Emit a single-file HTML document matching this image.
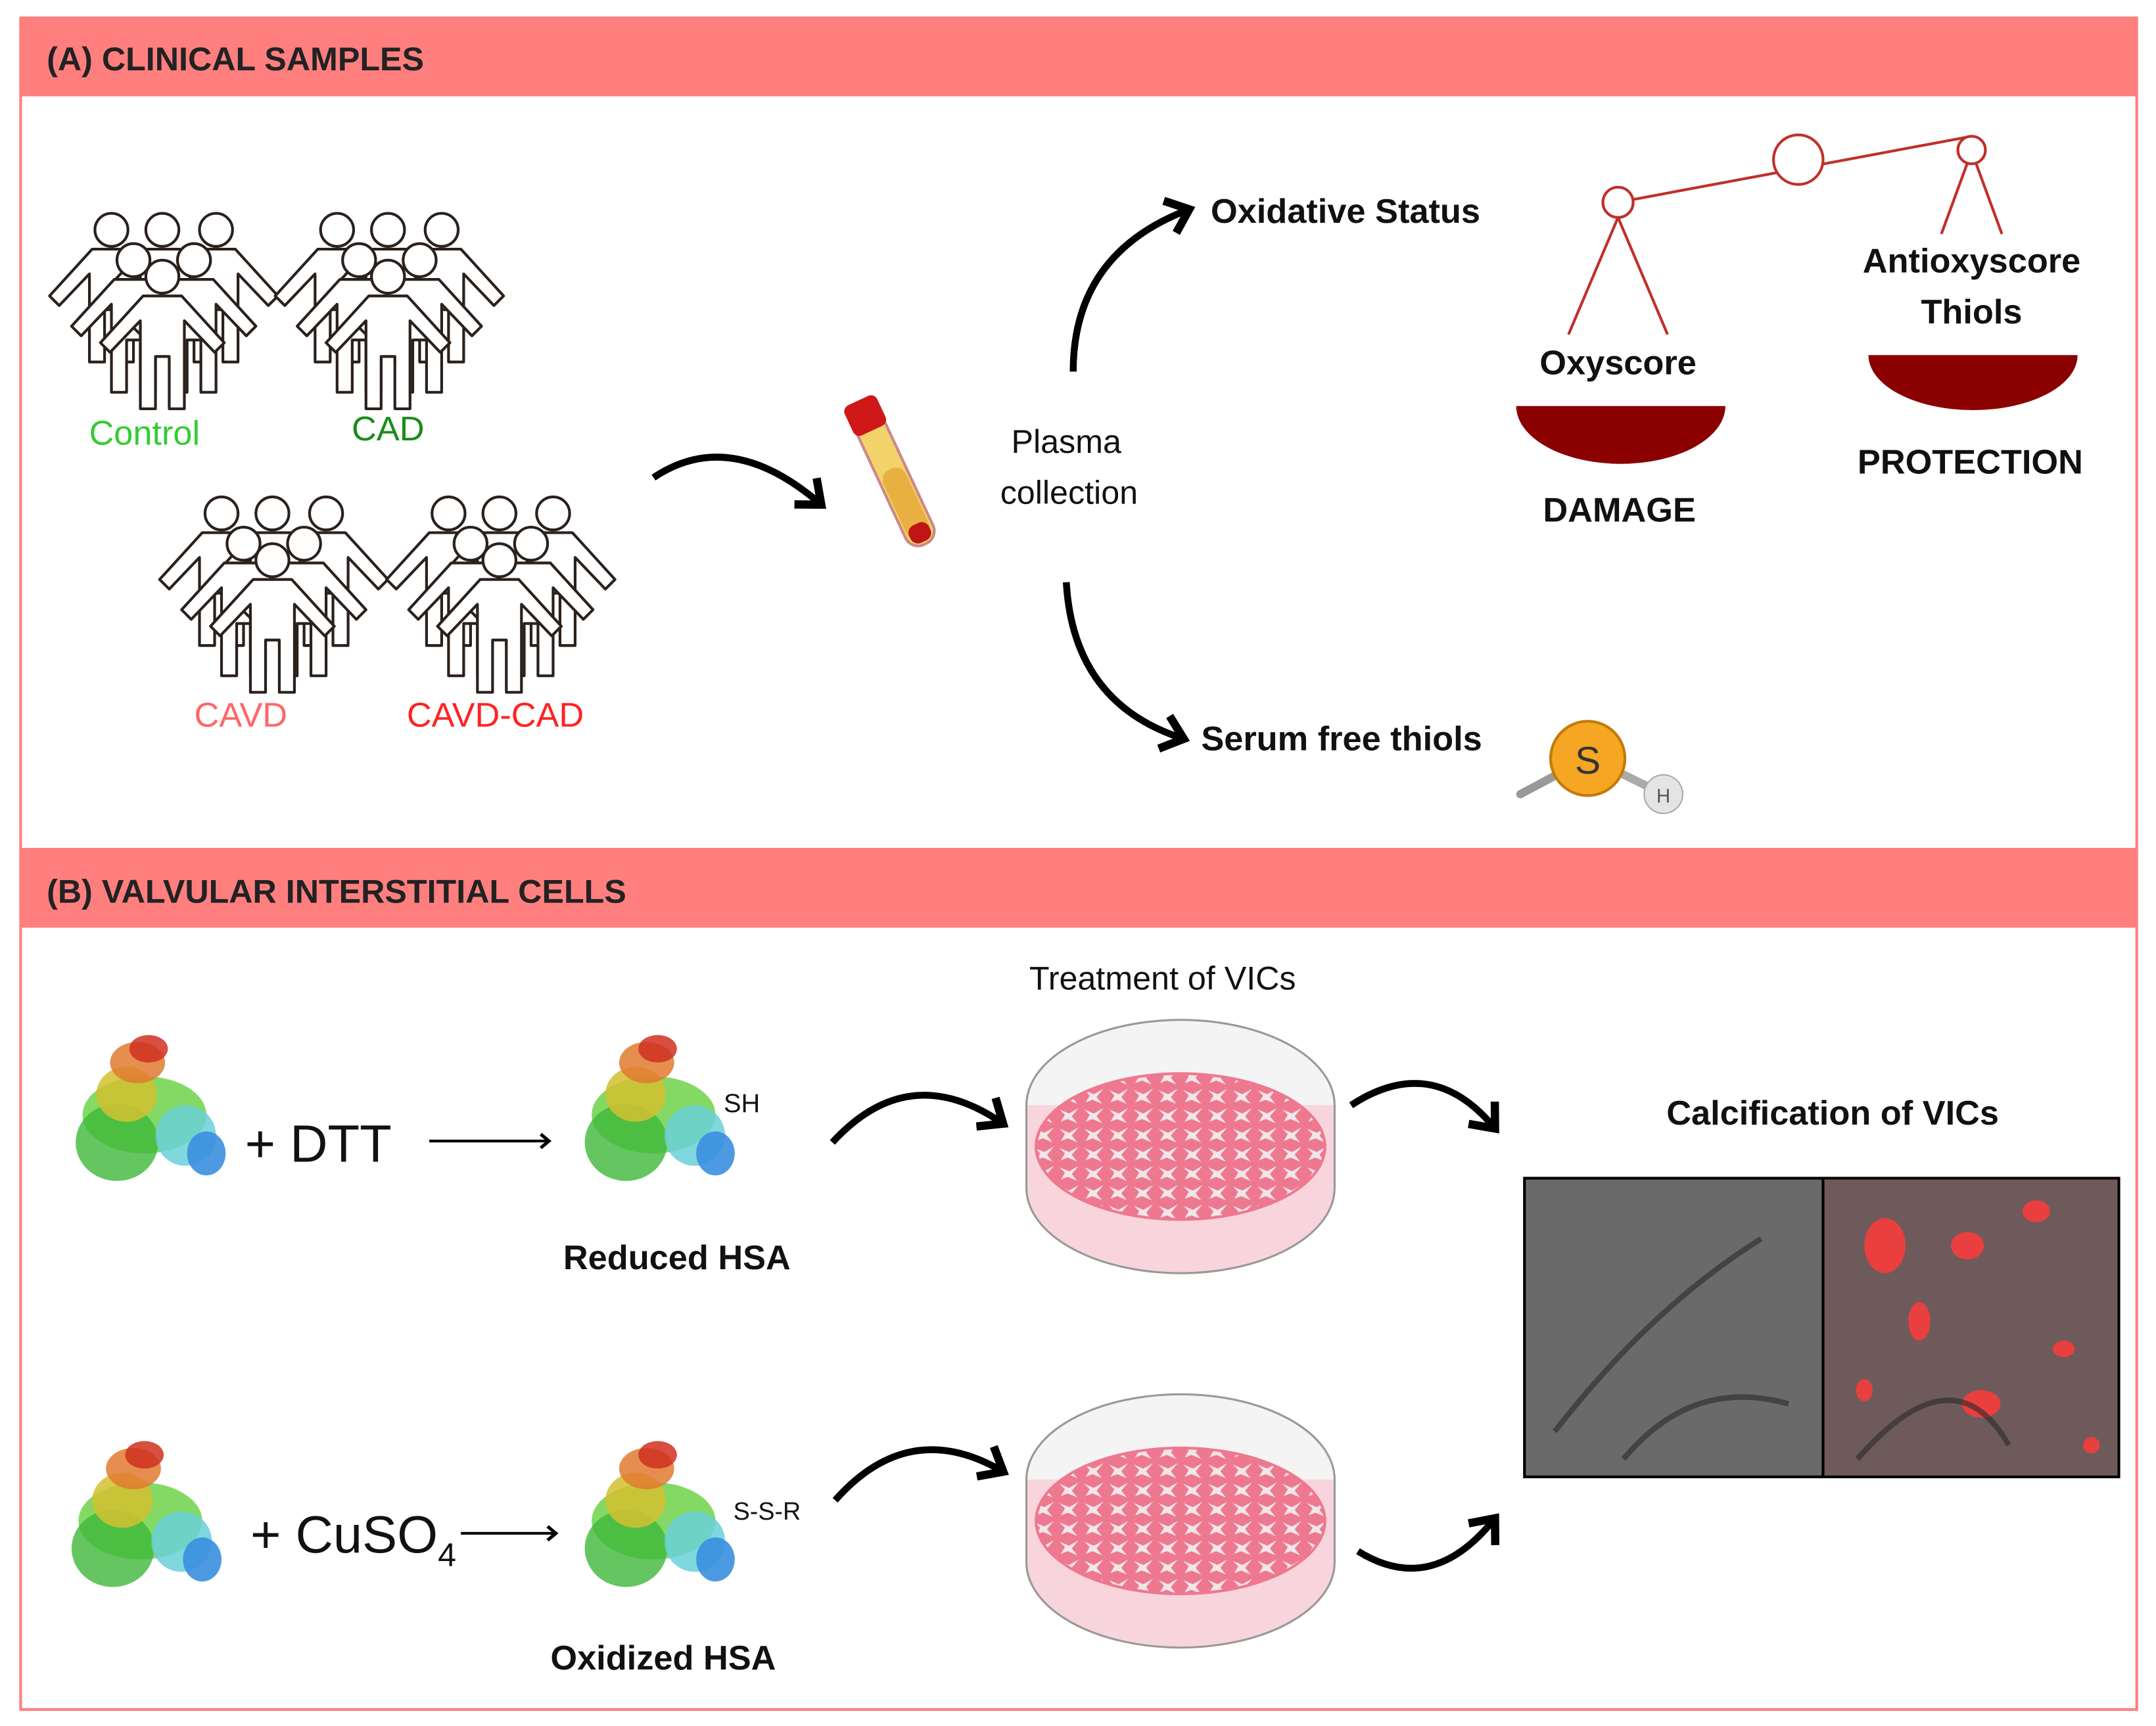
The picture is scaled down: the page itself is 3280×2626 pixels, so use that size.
<!DOCTYPE html>
<html><head><meta charset="utf-8"><style>
html,body{margin:0;padding:0;background:#fff;}
svg{display:block;}
text{font-family:"Liberation Sans",sans-serif;}
</style></head><body>
<svg width="3280" height="2626" viewBox="0 0 1567 1254" preserveAspectRatio="none" xmlns="http://www.w3.org/2000/svg">
<defs>
<g id="p">
<path d="M-14 14 L14 14 L45 48 L38 55 L16 32 L16 96 L5 96 L5 58 L-5 58 L-5 96 L-16 96 L-16 32 L-38 55 L-45 48 Z" fill="#fff" stroke="#2a211c" stroke-width="2" stroke-linejoin="round"/>
<circle cx="0" cy="0" r="12" fill="#fff" stroke="#2a211c" stroke-width="2"/>
</g>
<g id="grp">
<use href="#p" x="-37" y="0"/><use href="#p" x="0" y="0"/><use href="#p" x="39" y="0"/>
<use href="#p" x="-21" y="22"/><use href="#p" x="23" y="22"/>
<use href="#p" x="0" y="34"/>
</g>
<marker id="ah" markerWidth="6" markerHeight="6" refX="3" refY="3" orient="auto" markerUnits="strokeWidth"><path d="M0.5 0.5 L3.5 3 L0.5 5.5" fill="none" stroke="#000" stroke-width="1.2"/></marker>
<pattern id="cells" width="18" height="14" patternUnits="userSpaceOnUse">
<path d="M2 3 L9 6 L16 2 L11 8 L15 13 L8 10 L3 12 L6 7 Z" fill="#f2f2f2" opacity="0.9"/>
</pattern>
<g id="dish">
<ellipse cx="0" cy="0" rx="112" ry="62" fill="#f4f4f4" stroke="#999" stroke-width="1.5"/>
<path d="M-112 0 L-112 60 A112 62 0 0 0 112 60 L112 0" fill="#f8d5dc" stroke="#999" stroke-width="1.5"/>
<ellipse cx="0" cy="30" rx="106" ry="54" fill="#ee7890"/>
<ellipse cx="0" cy="30" rx="104" ry="52" fill="url(#cells)"/>
</g>
</defs>
<rect x="0" y="0" width="1567" height="1254" fill="#fff"/>
<!-- Panel A -->
<rect x="15" y="13" width="1538" height="604" fill="#fff" stroke="#ff8080" stroke-width="2"/>
<rect x="15" y="13" width="1538" height="57" fill="#ff7f7f"/>
<text x="34" y="51" font-size="24" font-weight="bold" fill="#222">(A) CLINICAL SAMPLES</text>
<!-- Panel B -->
<rect x="15" y="618" width="1538" height="624" fill="#fff" stroke="#ff8080" stroke-width="2"/>
<rect x="15" y="618" width="1538" height="56" fill="#ff7f7f"/>
<text x="34" y="656" font-size="24" font-weight="bold" fill="#222">(B) VALVULAR INTERSTITIAL CELLS</text>

<use href="#grp" x="118" y="167"/>
<use href="#grp" x="282" y="167"/>
<use href="#grp" x="198" y="373"/>
<use href="#grp" x="363" y="373"/>
<text x="105" y="323" font-size="25" fill="#33cc33" text-anchor="middle">Control</text>
<text x="282" y="320" font-size="25" fill="#1a8c1a" text-anchor="middle">CAD</text>
<text x="175" y="528" font-size="25" fill="#ff6666" text-anchor="middle">CAVD</text>
<text x="360" y="528" font-size="25" fill="#ff2222" text-anchor="middle">CAVD-CAD</text>

<!-- arrows A -->
<path d="M475 347 Q530 310 595 365" fill="none" stroke="#000" stroke-width="5" marker-end="url(#ah)"/>
<path d="M780 270 Q780 185 862 153" fill="none" stroke="#000" stroke-width="5" marker-end="url(#ah)"/>
<path d="M775 423 Q780 510 858 536" fill="none" stroke="#000" stroke-width="5" marker-end="url(#ah)"/>
<!-- tube -->
<g transform="rotate(-25 650 345)">
<rect x="638" y="290" width="22" height="110" rx="10" fill="#f1d36a" stroke="#c88" stroke-width="2"/>
<rect x="640" y="340" width="18" height="55" rx="8" fill="#e8b040"/>
<rect x="636" y="285" width="26" height="24" rx="5" fill="#d01818"/>
<rect x="641" y="384" width="16" height="14" rx="6" fill="#c01515"/>
</g>
<text x="775" y="329" font-size="24" fill="#111" text-anchor="middle">Plasma</text>
<text x="777" y="366" font-size="24" fill="#111" text-anchor="middle">collection</text>
<text x="880" y="162" font-size="25" font-weight="bold" fill="#111">Oxidative Status</text>
<text x="873" y="545" font-size="25" font-weight="bold" fill="#111">Serum free thiols</text>
<!-- balance -->
<g stroke="#c0302a" stroke-width="2" fill="#fff">
<line x1="1176" y1="147" x2="1433" y2="99"/>
<line x1="1176" y1="158" x2="1140" y2="243"/><line x1="1176" y1="158" x2="1212" y2="243"/>
<line x1="1433" y1="110" x2="1411" y2="170"/><line x1="1433" y1="110" x2="1455" y2="170"/>
<circle cx="1176" cy="147" r="11"/>
<circle cx="1307" cy="116" r="18"/>
<circle cx="1433" cy="109" r="10"/>
</g>
<path d="M1102 295 L1254 295 A76 42 0 0 1 1102 295 Z" fill="#8b0000"/>
<path d="M1358 258 L1510 258 A76 40 0 0 1 1358 258 Z" fill="#8b0000"/>
<text x="1176" y="272" font-size="25" font-weight="bold" fill="#111" text-anchor="middle">Oxyscore</text>
<text x="1433" y="198" font-size="25" font-weight="bold" fill="#111" text-anchor="middle">Antioxyscore</text>
<text x="1433" y="235" font-size="25" font-weight="bold" fill="#111" text-anchor="middle">Thiols</text>
<text x="1177" y="379" font-size="25" font-weight="bold" fill="#111" text-anchor="middle">DAMAGE</text>
<text x="1432" y="344" font-size="25" font-weight="bold" fill="#111" text-anchor="middle">PROTECTION</text>
<!-- SH molecule -->
<line x1="1105" y1="577" x2="1150" y2="553" stroke="#999" stroke-width="6" stroke-linecap="round"/>
<line x1="1160" y1="553" x2="1205" y2="575" stroke="#aaa" stroke-width="6"/>
<circle cx="1154" cy="551" r="27" fill="#f5a623" stroke="#c47a0a" stroke-width="2"/>
<text x="1154" y="562" font-size="28" fill="#333" text-anchor="middle">S</text>
<circle cx="1209" cy="577" r="14" fill="#e4e4e4" stroke="#aaa"/>
<text x="1209" y="583" font-size="14" fill="#555" text-anchor="middle">H</text>

<!-- Panel B contents: proteins -->
<g id="prot">
<ellipse cx="105" cy="810" rx="45" ry="28" fill="#6fd24a" opacity="0.85"/>
<ellipse cx="85" cy="830" rx="30" ry="28" fill="#3fb83a" opacity="0.8"/>
<ellipse cx="92" cy="795" rx="22" ry="20" fill="#d4c030" opacity="0.85"/>
<ellipse cx="100" cy="772" rx="20" ry="15" fill="#e07a30" opacity="0.85"/>
<ellipse cx="108" cy="762" rx="14" ry="10" fill="#d03020" opacity="0.85"/>
<ellipse cx="135" cy="825" rx="22" ry="22" fill="#6ad0d8" opacity="0.85"/>
<ellipse cx="150" cy="838" rx="14" ry="16" fill="#3a8fe0" opacity="0.9"/>
</g>
<use href="#prot" x="370" y="0"/>
<use href="#prot" x="-3" y="295"/>
<use href="#prot" x="370" y="295"/>
<text x="178" y="844" font-size="38" fill="#111">+ DTT</text>
<line x1="312" y1="829" x2="398" y2="829" stroke="#000" stroke-width="2" marker-end="url(#ah)"/>
<text x="526" y="808" font-size="19" fill="#111">SH</text>
<text x="492" y="922" font-size="25" font-weight="bold" fill="#111" text-anchor="middle">Reduced HSA</text>
<text x="182" y="1128" font-size="38" fill="#111">+ CuSO<tspan font-size="24" dy="10">4</tspan></text>
<line x1="335" y1="1114" x2="403" y2="1114" stroke="#000" stroke-width="2" marker-end="url(#ah)"/>
<text x="533" y="1104" font-size="18" fill="#111">S-S-R</text>
<text x="482" y="1213" font-size="25" font-weight="bold" fill="#111" text-anchor="middle">Oxidized HSA</text>

<text x="845" y="719" font-size="24" fill="#111" text-anchor="middle">Treatment of VICs</text>
<use href="#dish" x="858" y="803"/>
<use href="#dish" x="858" y="1075"/>
<path d="M605 830 Q660 770 727 815" fill="none" stroke="#000" stroke-width="5" marker-end="url(#ah)"/>
<path d="M607 1090 Q660 1030 727 1068" fill="none" stroke="#000" stroke-width="5" marker-end="url(#ah)"/>
<path d="M982 803 Q1040 765 1085 818" fill="none" stroke="#000" stroke-width="5" marker-end="url(#ah)"/>
<path d="M987 1127 Q1040 1160 1085 1105" fill="none" stroke="#000" stroke-width="5" marker-end="url(#ah)"/>
<text x="1332" y="817" font-size="25" font-weight="bold" fill="#111" text-anchor="middle">Calcification of VICs</text>
<rect x="1108" y="856" width="432" height="217" fill="#6a6a6a" stroke="#000" stroke-width="2"/>
<rect x="1326" y="857" width="213" height="215" fill="#6e5a5a"/>
<line x1="1325" y1="856" x2="1325" y2="1073" stroke="#000" stroke-width="2"/>
<g fill="#ff3b3b" opacity="0.85">
<ellipse cx="1370" cy="905" rx="15" ry="20"/><ellipse cx="1430" cy="905" rx="12" ry="10"/>
<ellipse cx="1395" cy="960" rx="8" ry="14"/><ellipse cx="1480" cy="880" rx="10" ry="8"/>
<ellipse cx="1440" cy="1020" rx="14" ry="10"/><ellipse cx="1520" cy="1050" rx="6" ry="6"/>
<ellipse cx="1500" cy="980" rx="8" ry="6"/><ellipse cx="1355" cy="1010" rx="6" ry="8"/>
</g>
<g stroke="#2a2a2a" stroke-width="4" fill="none" opacity="0.6">
<path d="M1130 1040 Q1200 950 1280 900"/><path d="M1180 1060 Q1230 1000 1300 1020"/>
<path d="M1350 1060 Q1420 980 1460 1050"/>
</g>
</svg>
</body></html>
